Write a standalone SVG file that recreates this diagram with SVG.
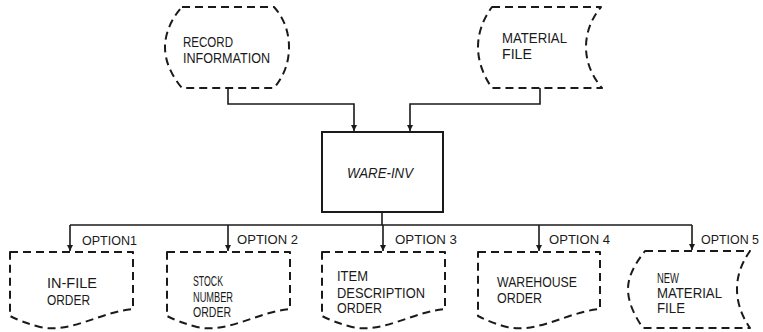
<svg xmlns="http://www.w3.org/2000/svg" width="763" height="332" viewBox="0 0 763 332">
<style>
.sh{fill:none;stroke:#1a1a1a;stroke-width:2;stroke-dasharray:8 5;stroke-linejoin:round}
.bx{fill:none;stroke:#1a1a1a;stroke-width:2}
.ln{fill:none;stroke:#1a1a1a;stroke-width:1.6}
text{font-family:"Liberation Sans",Arial,sans-serif;font-size:14px;fill:#1a1a1a}
.op{font-size:13px}
.it{font-style:italic}
</style>
<defs>
<marker id="ah" viewBox="0 0 10 10" refX="10" refY="5" markerWidth="6" markerHeight="10" markerUnits="userSpaceOnUse" orient="auto">
<path d="M0,0 L10,5 L0,10 Z" fill="#1a1a1a"/>
</marker>
</defs>
<g id="connectors">
<path class="ln" d="M228,88 V104 H354 V131" marker-end="url(#ah)"/>
<path class="ln" d="M540,88 V104 H410 V131" marker-end="url(#ah)"/>
<path class="ln" d="M382,212 V225"/>
<path class="ln" d="M70,225 H692"/>
<path class="ln" d="M70,225 V251" marker-end="url(#ah)"/>
<path class="ln" d="M228,225 V251" marker-end="url(#ah)"/>
<path class="ln" d="M383,225 V251" marker-end="url(#ah)"/>
<path class="ln" d="M539,225 V251" marker-end="url(#ah)"/>
<path class="ln" d="M692,225 V250" marker-end="url(#ah)"/>
<text class="op" x="82" y="245" textLength="55" lengthAdjust="spacingAndGlyphs">OPTION1</text>
<text class="op" x="237" y="244" textLength="61" lengthAdjust="spacingAndGlyphs">OPTION 2</text>
<text class="op" x="395" y="244" textLength="62" lengthAdjust="spacingAndGlyphs">OPTION 3</text>
<text class="op" x="549" y="244" textLength="61" lengthAdjust="spacingAndGlyphs">OPTION 4</text>
<text class="op" x="701" y="244" textLength="58" lengthAdjust="spacingAndGlyphs">OPTION 5</text>
</g>
<g id="record-information">
<path class="sh" d="M182,7 H274 C285,19 289,34 289,47 C289,61 285,75 274,88 H182 C171,75 165,61 165,47 C165,34 171,19 182,7 Z"/>
<text x="183" y="47" textLength="50" lengthAdjust="spacingAndGlyphs">RECORD</text>
<text x="183" y="63" textLength="87" lengthAdjust="spacingAndGlyphs">INFORMATION</text>
</g>
<g id="material-file">
<path class="sh" d="M492,7 H601 C591,19 586,33 586,47 C586,61 591,75 602,88 H492 C483,75 478,61 478,47 C478,33 483,19 492,7 Z"/>
<text x="502" y="43" textLength="65" lengthAdjust="spacingAndGlyphs">MATERIAL</text>
<text x="502" y="59" textLength="30" lengthAdjust="spacingAndGlyphs">FILE</text>
</g>
<g id="ware-inv">
<rect class="bx" x="322" y="132" width="121" height="80"/>
<text class="it" x="347" y="178" textLength="66" lengthAdjust="spacingAndGlyphs">WARE-INV</text>
</g>
<g id="in-file-order">
<path class="sh" d="M10,252 H133 V309 C100,312 70,334 40,327 C28,324 18,320 10,316 Z"/>
<text x="47" y="288" textLength="50" lengthAdjust="spacingAndGlyphs">IN-FILE</text>
<text x="47" y="305" textLength="43" lengthAdjust="spacingAndGlyphs">ORDER</text>
</g>
<g id="stock-number-order">
<path class="sh" d="M167,252 H290 V309 C257,312 227,334 197,327 C185,324 175,320 167,316 Z"/>
<text x="193" y="286" textLength="30" lengthAdjust="spacingAndGlyphs">STOCK</text>
<text x="193" y="302" textLength="40" lengthAdjust="spacingAndGlyphs">NUMBER</text>
<text x="193" y="317" textLength="38" lengthAdjust="spacingAndGlyphs">ORDER</text>
</g>
<g id="item-description-order">
<path class="sh" d="M322,252 H445 V309 C412,312 382,334 352,327 C340,324 330,320 322,316 Z"/>
<text x="337" y="281" textLength="31" lengthAdjust="spacingAndGlyphs">ITEM</text>
<text x="337" y="298" textLength="88" lengthAdjust="spacingAndGlyphs">DESCRIPTION</text>
<text x="337" y="313" textLength="45" lengthAdjust="spacingAndGlyphs">ORDER</text>
</g>
<g id="warehouse-order">
<path class="sh" d="M478,252 H600 V309 C567,312 537,334 507,327 C495,324 486,320 478,316 Z"/>
<text x="497" y="287" textLength="80" lengthAdjust="spacingAndGlyphs">WAREHOUSE</text>
<text x="497" y="303" textLength="45" lengthAdjust="spacingAndGlyphs">ORDER</text>
</g>
<g id="new-material-file">
<path class="sh" d="M645,251 H750 C741,264 737,276 737,289 C737,302 741,315 750,328 H643 C634,315 628,302 628,289 C628,276 635,264 645,251 Z"/>
<text x="657" y="283" textLength="22" lengthAdjust="spacingAndGlyphs">NEW</text>
<text x="657" y="298" textLength="65" lengthAdjust="spacingAndGlyphs">MATERIAL</text>
<text x="657" y="313" textLength="28" lengthAdjust="spacingAndGlyphs">FILE</text>
</g>
</svg>
